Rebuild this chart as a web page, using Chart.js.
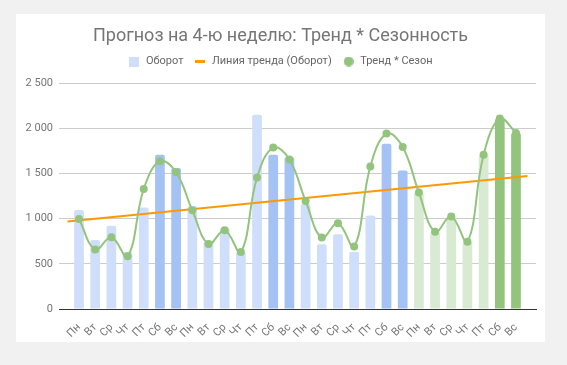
<!DOCTYPE html>
<html lang="ru">
<head>
<meta charset="utf-8">
<title>Прогноз на 4-ю неделю</title>
<script src="https://cdn.jsdelivr.net/npm/chart.js@4.4.1/dist/chart.umd.min.js"></script>
<style>
  html, body { margin: 0; padding: 0; background: #f1f1f1; }
  body { width: 567px; height: 365px; position: relative; overflow: hidden; }
  .card { position: absolute; left: 16px; top: 14px; width: 529px; height: 328px; background: #fff; }
  canvas { display: block; }
</style>
</head>
<body>
<div class="card"><canvas id="forecastChart" width="529" height="328"></canvas></div>
<script>
'use strict';

// ─────────────────────────────────────────────
// DATA
// ─────────────────────────────────────────────
const weekDays = ['Пн', 'Вт', 'Ср', 'Чт', 'Пт', 'Сб', 'Вс'];
const weekCount = 4;
const dayLabels = Array.from({ length: weekCount }, () => weekDays).flat();

// Оборот: weeks 1–3 actual, week 4 = forecast
const turnover = [
  1096, 764, 922, 631, 1122, 1705, 1561,
  1140, 745, 893, 634, 2148, 1705, 1679,
  1162, 716, 827, 634, 1033, 1827, 1531,
  1288, 854, 1024, 744, 1705, 2107, 1948,
];

// Тренд * Сезон
const trendSeason = [
  996, 657, 793, 583, 1328, 1635, 1513,
  1092, 720, 871, 631, 1454, 1786, 1653,
  1196, 790, 948, 690, 1576, 1941, 1793,
  1288, 854, 1024, 744, 1705, 2107, 1948,
];

const forecastStart = 21;
const yTicks = [0, 500, 1000, 1500, 2000, 2500];

// ─────────────────────────────────────────────
// HELPERS
// ─────────────────────────────────────────────
const X_MIN = -0.71;
const X_MAX = dayLabels.length - 1 + 0.71;

const COLORS = {
  blue: '#cfdefa',
  blueWeekend: '#a4c2f4',
  green: '#d9ead3',
  greenWeekend: '#93c47d',
  line: '#93c47d',
  trend: '#ff9900',
  text: '#757575',
};

const isWeekend = (i) => i % 7 >= 5;
const barColor = (i) => {
  if (i >= forecastStart) return isWeekend(i) ? COLORS.greenWeekend : COLORS.green;
  return isWeekend(i) ? COLORS.blueWeekend : COLORS.blue;
};

// least squares line through the turnover values (as the sheet does)
function linearFit(values) {
  const n = values.length;
  const mx = (n - 1) / 2;
  const my = values.reduce((a, b) => a + b, 0) / n;
  let sxy = 0, sxx = 0;
  values.forEach((v, i) => { sxy += (i - mx) * (v - my); sxx += (i - mx) ** 2; });
  const slope = sxy / sxx;
  return (x) => my + slope * (x - mx);
}
const trendAt = linearFit(turnover);

const fmt = (v) => String(v).replace(/\B(?=(\d{3})+(?!\d))/g, ' ');

function makeIcon(kind, color) {
  const c = document.createElement('canvas');
  const ctx = c.getContext('2d');
  c.width = 10;
  c.height = kind === 'line' ? 3 : 10;
  ctx.fillStyle = color;
  if (kind === 'circle') {
    ctx.beginPath(); ctx.arc(5, 5, 5, 0, Math.PI * 2); ctx.fill();
  } else {
    ctx.fillRect(0, 0, c.width, c.height);
  }
  return c;
}
const legendIcons = [
  makeIcon('rect', COLORS.blue),
  makeIcon('line', COLORS.trend),
  makeIcon('circle', COLORS.line),
];

// ─────────────────────────────────────────────
// CHART
// ─────────────────────────────────────────────
Chart.defaults.font.family = 'Roboto';
Chart.defaults.color = COLORS.text;

new Chart(document.getElementById('forecastChart'), {
  type: 'bar',
  data: {
    datasets: [
      {
        type: 'bar',
        label: 'Оборот',
        data: turnover.map((v, i) => ({ x: i, y: v })),
        backgroundColor: turnover.map((_, i) => barColor(i)),
        barPercentage: 0.6,
        categoryPercentage: 1,
        borderRadius: 2,
        order: 3,
      },
      {
        type: 'line',
        label: 'Линия тренда (Оборот)',
        data: [X_MIN, X_MAX].map((x) => ({ x, y: trendAt(x) })),
        borderColor: COLORS.trend,
        borderWidth: 2,
        pointRadius: 0,
        tension: 0,
        order: 2,
      },
      {
        type: 'line',
        label: 'Тренд * Сезон',
        data: trendSeason.map((v, i) => ({ x: i, y: v })),
        borderColor: COLORS.line,
        borderWidth: 2,
        tension: 0.4,
        pointRadius: 4,
        pointBorderWidth: 0,
        pointBackgroundColor: COLORS.line,
        order: 1,
      },
    ],
  },
  options: {
    responsive: false,
    animation: false,
    events: [],
    layout: { padding: 0 },
    plugins: {
      tooltip: { enabled: false },
      title: {
        display: true,
        text: 'Прогноз на 4-ю неделю: Тренд * Сезонность',
        color: COLORS.text,
        font: { size: 18, weight: '400', lineHeight: 1 },
        padding: { top: 13, bottom: 0 },
      },
      // empty subtitle below the legend, used only as a spacer
      subtitle: {
        display: true,
        text: '',
        weight: 500,
        font: { size: 6, lineHeight: 1 },
        padding: 0,
      },
      legend: {
        display: true,
        labels: {
          usePointStyle: true,
          pointStyleWidth: 12,
          boxHeight: 11,
          padding: 11,
          color: '#666',
          font: { size: 11 },
          sort: (a, b) => a.datasetIndex - b.datasetIndex,
          generateLabels(chart) {
            const items = Chart.defaults.plugins.legend.labels.generateLabels(chart);
            items.forEach((it) => { it.pointStyle = legendIcons[it.datasetIndex]; });
            return items;
          },
        },
      },
    },
    scales: {
      x: {
        type: 'linear',
        min: X_MIN,
        max: X_MAX,
        z: 1,
        grid: { display: false },
        border: { display: true, color: '#333', width: 1 },
        afterBuildTicks: (s) => { s.ticks = dayLabels.map((_, i) => ({ value: i })); },
        // plot ends 9px before the card edge; title and legend stay centred on the card
        afterFit: (s) => { s.height = 33; s.paddingLeft = 0; s.paddingRight = 9; },
        ticks: {
          autoSkip: false,
          minRotation: 45,
          maxRotation: 45,
          padding: 4,
          font: { size: 11 },
          callback: (v) => dayLabels[v],
        },
      },
      y: {
        min: yTicks[0],
        max: yTicks[yTicks.length - 1],
        afterBuildTicks: (s) => { s.ticks = yTicks.map((v) => ({ value: v })); },
        afterFit: (s) => { s.width = 43; },
        grid: {
          color: (ctx) => (ctx.tick && ctx.tick.value === 0 ? 'rgba(0,0,0,0)' : '#cccccc'),
          drawTicks: false,
        },
        border: { display: false },
        ticks: { padding: 6, font: { size: 11 }, callback: (v) => fmt(v) },
      },
    },
  },
});
</script>
</body>
</html>
